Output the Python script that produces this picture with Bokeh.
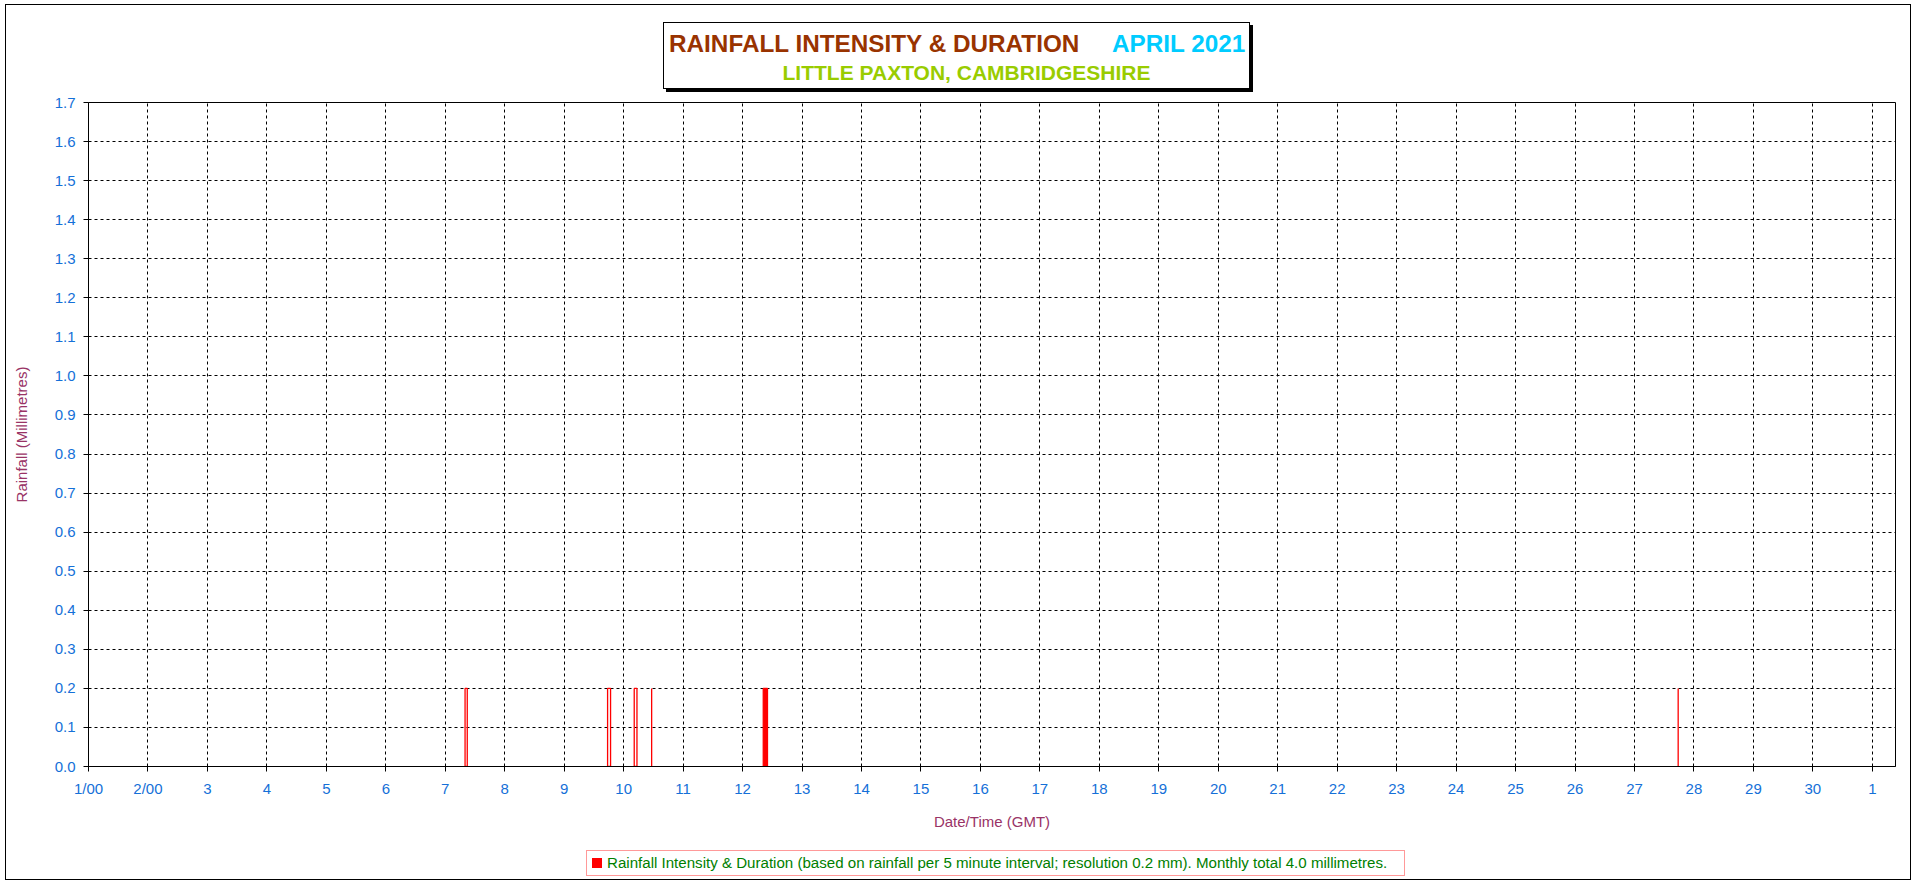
from bokeh.plotting import figure
from bokeh.layouts import column
from bokeh.models import (Range1d, FixedTicker, PrintfTickFormatter, ColumnDataSource, Div)
from bokeh.embed import file_html
from bokeh.resources import INLINE

# ---- data ----
# rain events: start / end time as decimal day of April 2021, rainfall per 5-min interval (mm)
rain_start = [7.333, 9.730, 10.178, 10.471, 12.348, 27.735]
rain_end = [7.370, 9.780, 10.224, 10.471, 12.419, 27.735]
rain_mm = [0.2, 0.2, 0.2, 0.2, 0.2, 0.2]

x_ticks = list(range(1, 32))
x_tick_labels = ["1/00", "2/00", "3", "4", "5", "6", "7", "8", "9", "10", "11", "12", "13",
                 "14", "15", "16", "17", "18", "19", "20", "21", "22", "23", "24", "25", "26",
                 "27", "28", "29", "30", "1"]
y_ticks = [0.0, 0.1, 0.2, 0.3, 0.4, 0.5, 0.6, 0.7, 0.8, 0.9, 1.0, 1.1, 1.2, 1.3, 1.4, 1.5, 1.6, 1.7]

title_main = "RAINFALL INTENSITY &amp; DURATION"
title_month = "APRIL 2021"
title_place = "LITTLE PAXTON, CAMBRIDGESHIRE"
legend_text = ("Rainfall Intensity &amp; Duration (based on rainfall per 5 minute interval; "
               "resolution 0.2 mm). Monthly total 4.0 millimetres.")

FONT = "Liberation Sans"
W = 1916
TITLE_H = 93
PLOT_H = 743
LEGEND_H = 884 - TITLE_H - PLOT_H

# ---- title block (boxed, with shadow) + outer chart border ----
title_html = f"""
<div style="position:relative; width:{W}px; height:{TITLE_H}px; font-family:'{FONT}';">
  <div style="position:absolute; left:663px; top:22px; width:587px; height:67px;
              box-sizing:border-box; border:1px solid black; background:white;
              box-shadow:3px 3px 0 0 black;">
    <div style="position:absolute; left:5px; top:8px; line-height:26px; white-space:nowrap;
                font-size:24.3px; font-weight:bold; color:#993300;">{title_main}</div>
    <div style="position:absolute; left:448px; top:8px; line-height:26px; white-space:nowrap;
                font-size:24.3px; font-weight:bold; color:#00CCFF;">{title_month}</div>
    <div style="position:absolute; left:20px; right:0px; top:38px; line-height:24px;
                white-space:nowrap; text-align:center; font-size:21px; font-weight:bold;
                color:#99CC00;">{title_place}</div>
  </div>
  <div style="position:absolute; left:5px; top:4px; width:1906px; height:876px;
              box-sizing:border-box; border:1px solid black; pointer-events:none;
              z-index:10;"></div>
</div>
"""
title_div = Div(text=title_html, width=W, height=TITLE_H, margin=0,
                styles={"overflow": "visible", "z-index": "10"})

# ---- chart ----
p = figure(width=W, height=PLOT_H, output_backend="svg", toolbar_location=None,
           title=None, x_range=Range1d(1, 31.39), y_range=Range1d(0, 1.7),
           min_border_left=88, min_border_right=21, min_border_top=9, min_border_bottom=70,
           margin=0)
p.background_fill_color = "white"
p.border_fill_color = "white"
p.outline_line_color = "black"
p.outline_line_width = 1

p.xaxis.ticker = FixedTicker(ticks=x_ticks)
p.xaxis.major_label_overrides = {t: lab for t, lab in zip(x_ticks, x_tick_labels)}
p.yaxis.ticker = FixedTicker(ticks=y_ticks)
p.yaxis.formatter = PrintfTickFormatter(format="%.1f")
for ax in (p.xaxis[0], p.yaxis[0]):
    ax.axis_line_color = "black"
    ax.axis_line_width = 1
    ax.major_tick_line_color = "black"
    ax.major_tick_out = 5
    ax.major_tick_in = 0
    ax.minor_tick_line_color = None
    ax.major_label_text_font = FONT
    ax.major_label_text_font_size = "15px"
    ax.major_label_text_color = "#1570D8"
    ax.axis_label_text_font = FONT
    ax.axis_label_text_font_size = "15px"
    ax.axis_label_text_font_style = "normal"
    ax.axis_label_text_color = "#993366"
p.xaxis.axis_label = "Date/Time (GMT)"
p.xaxis.major_label_standoff = 8
p.xaxis.axis_label_standoff = 13
p.yaxis.axis_label = "Rainfall (Millimetres)"
p.yaxis.major_label_standoff = 8
p.yaxis.axis_label_standoff = 22

for g in (p.xgrid[0], p.ygrid[0]):
    g.grid_line_color = "black"
    g.grid_line_dash = "3 3"
    g.grid_line_width = 1

src = ColumnDataSource(dict(left=rain_start, right=rain_end, top=rain_mm,
                            bottom=[0.0] * len(rain_mm),
                            alpha=[0.0, 0.0, 0.0, 0.0, 1.0, 0.0]))
p.quad(left="left", right="right", top="top", bottom="bottom", source=src,
       fill_color="#FF0000", fill_alpha="alpha", line_color="#FF0000", line_width=1.3)

# ---- legend box below the chart ----
legend_html = f"""
<div style="position:relative; width:{W}px; height:{LEGEND_H}px; font-family:'{FONT}';">
  <div style="position:absolute; left:586px; top:14px; width:819px; height:26px;
              box-sizing:border-box; border:1px solid #FF9999; background:white;
              display:flex; align-items:center; white-space:nowrap;">
    <span style="display:inline-block; flex:none; width:10px; height:10px;
                 background:#FF0000; margin-left:5px; margin-right:5px;"></span>
    <span style="flex:none; font-size:15.1px; color:#008000;">{legend_text}</span>
  </div>
</div>
"""
legend_div = Div(text=legend_html, width=W, height=LEGEND_H, margin=0)

layout = column(title_div, p, legend_div, spacing=0, margin=0)

open("out.html", "w").write(file_html(layout, INLINE))
